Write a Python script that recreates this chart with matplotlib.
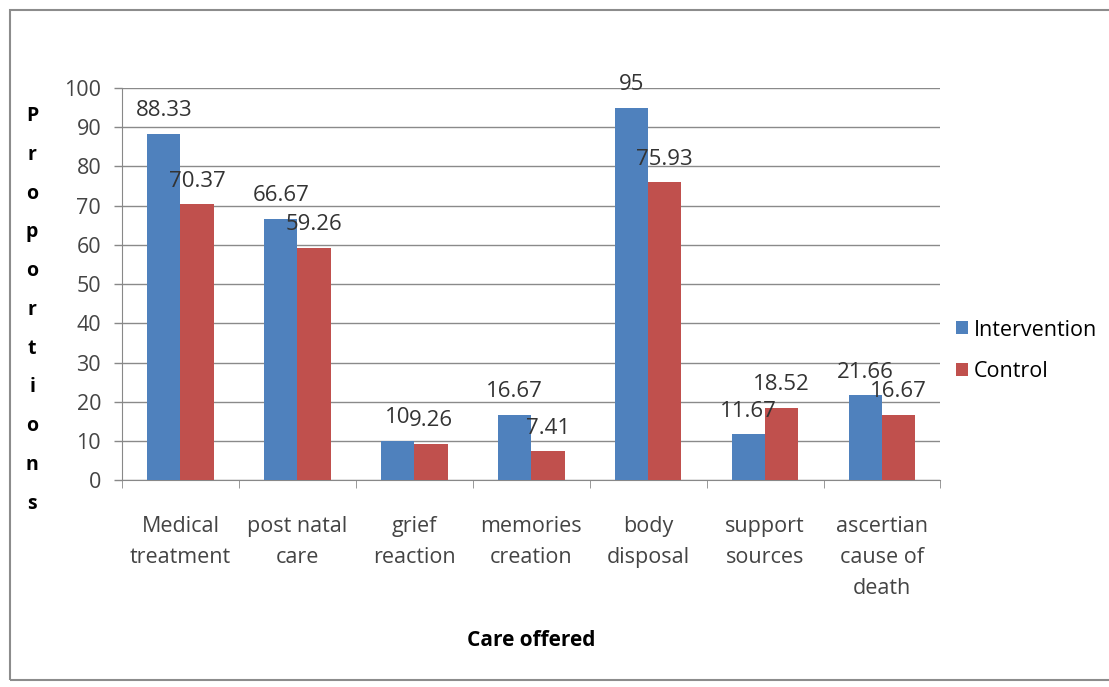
import matplotlib.pyplot as plt
import numpy as np
from matplotlib.patches import Rectangle

categories = ['Medical\ntreatment', 'post natal\ncare', 'grief\nreaction', 'memories\ncreation',
              'body\ndisposal', 'support\nsources', 'ascertian\ncause of\ndeath']
intervention = [88.33, 66.67, 10, 16.67, 95, 11.67, 21.66]
control = [70.37, 59.26, 9.26, 7.41, 75.93, 18.52, 16.67]
int_labels = ['88.33', '66.67', '10', '16.67', '95', '11.67', '21.66']
ctl_labels = ['70.37', '59.26', '9.26', '7.41', '75.93', '18.52', '16.67']

plt.rcParams['font.family'] = ['Open Sans', 'DejaVu Sans']

fig = plt.figure(figsize=(11.09, 6.87), dpi=100)
ax = fig.add_axes([0.110, 0.301, 0.738, 0.571])

# outer chart frame
fig.patches.append(Rectangle((0.009, 0.010), 0.995, 0.976, transform=fig.transFigure,
                             fill=False, edgecolor='#8c8c8c', linewidth=1.5))

x = np.arange(len(categories))
w = 0.285
b1 = ax.bar(x - w/2, intervention, w, color='#4F81BD', label='Intervention', zorder=3)
b2 = ax.bar(x + w/2, control, w, color='#C0504D', label='Control', zorder=3)

ax.bar_label(b1, labels=int_labels, padding=9, fontsize=16, color='#333333')
ax.bar_label(b2, labels=ctl_labels, padding=9, fontsize=16, color='#333333')

ax.set_xlim(-0.5, len(categories) - 0.5)
ax.set_ylim(0, 100)
ax.set_yticks(range(0, 101, 10))
ax.tick_params(axis='y', labelsize=15.5, colors='#888888', labelcolor='#444444',
               length=6, width=1, pad=9)
ax.yaxis.grid(True, color='#8a8a8a', linewidth=1, zorder=0)

ax.set_xticks(x)
ax.set_xticklabels(categories, fontsize=15.5, color='#444444', linespacing=1.6)
ax.tick_params(axis='x', length=0, pad=26)
ax.set_xticks(np.arange(len(categories) + 1) - 0.5, minor=True)
ax.tick_params(axis='x', which='minor', length=6, color='#888888')

for s in ['top', 'right']:
    ax.spines[s].set_visible(False)
ax.spines['left'].set_color('#888888')
ax.spines['bottom'].set_color('#888888')

ax.set_xlabel('Care offered', fontsize=15, fontweight='bold', labelpad=23)
fig.text(0.029, 0.549, '\n'.join('Proportions'), fontsize=14, fontweight='bold',
         ha='center', va='center', linespacing=2.25)

ax.legend(loc='center left', bbox_to_anchor=(0.995, 0.33), frameon=False, fontsize=15.5,
          handlelength=0.55, handleheight=0.55, handletextpad=0.3, labelspacing=0.95)

fig.savefig('out.png', dpi=100)
